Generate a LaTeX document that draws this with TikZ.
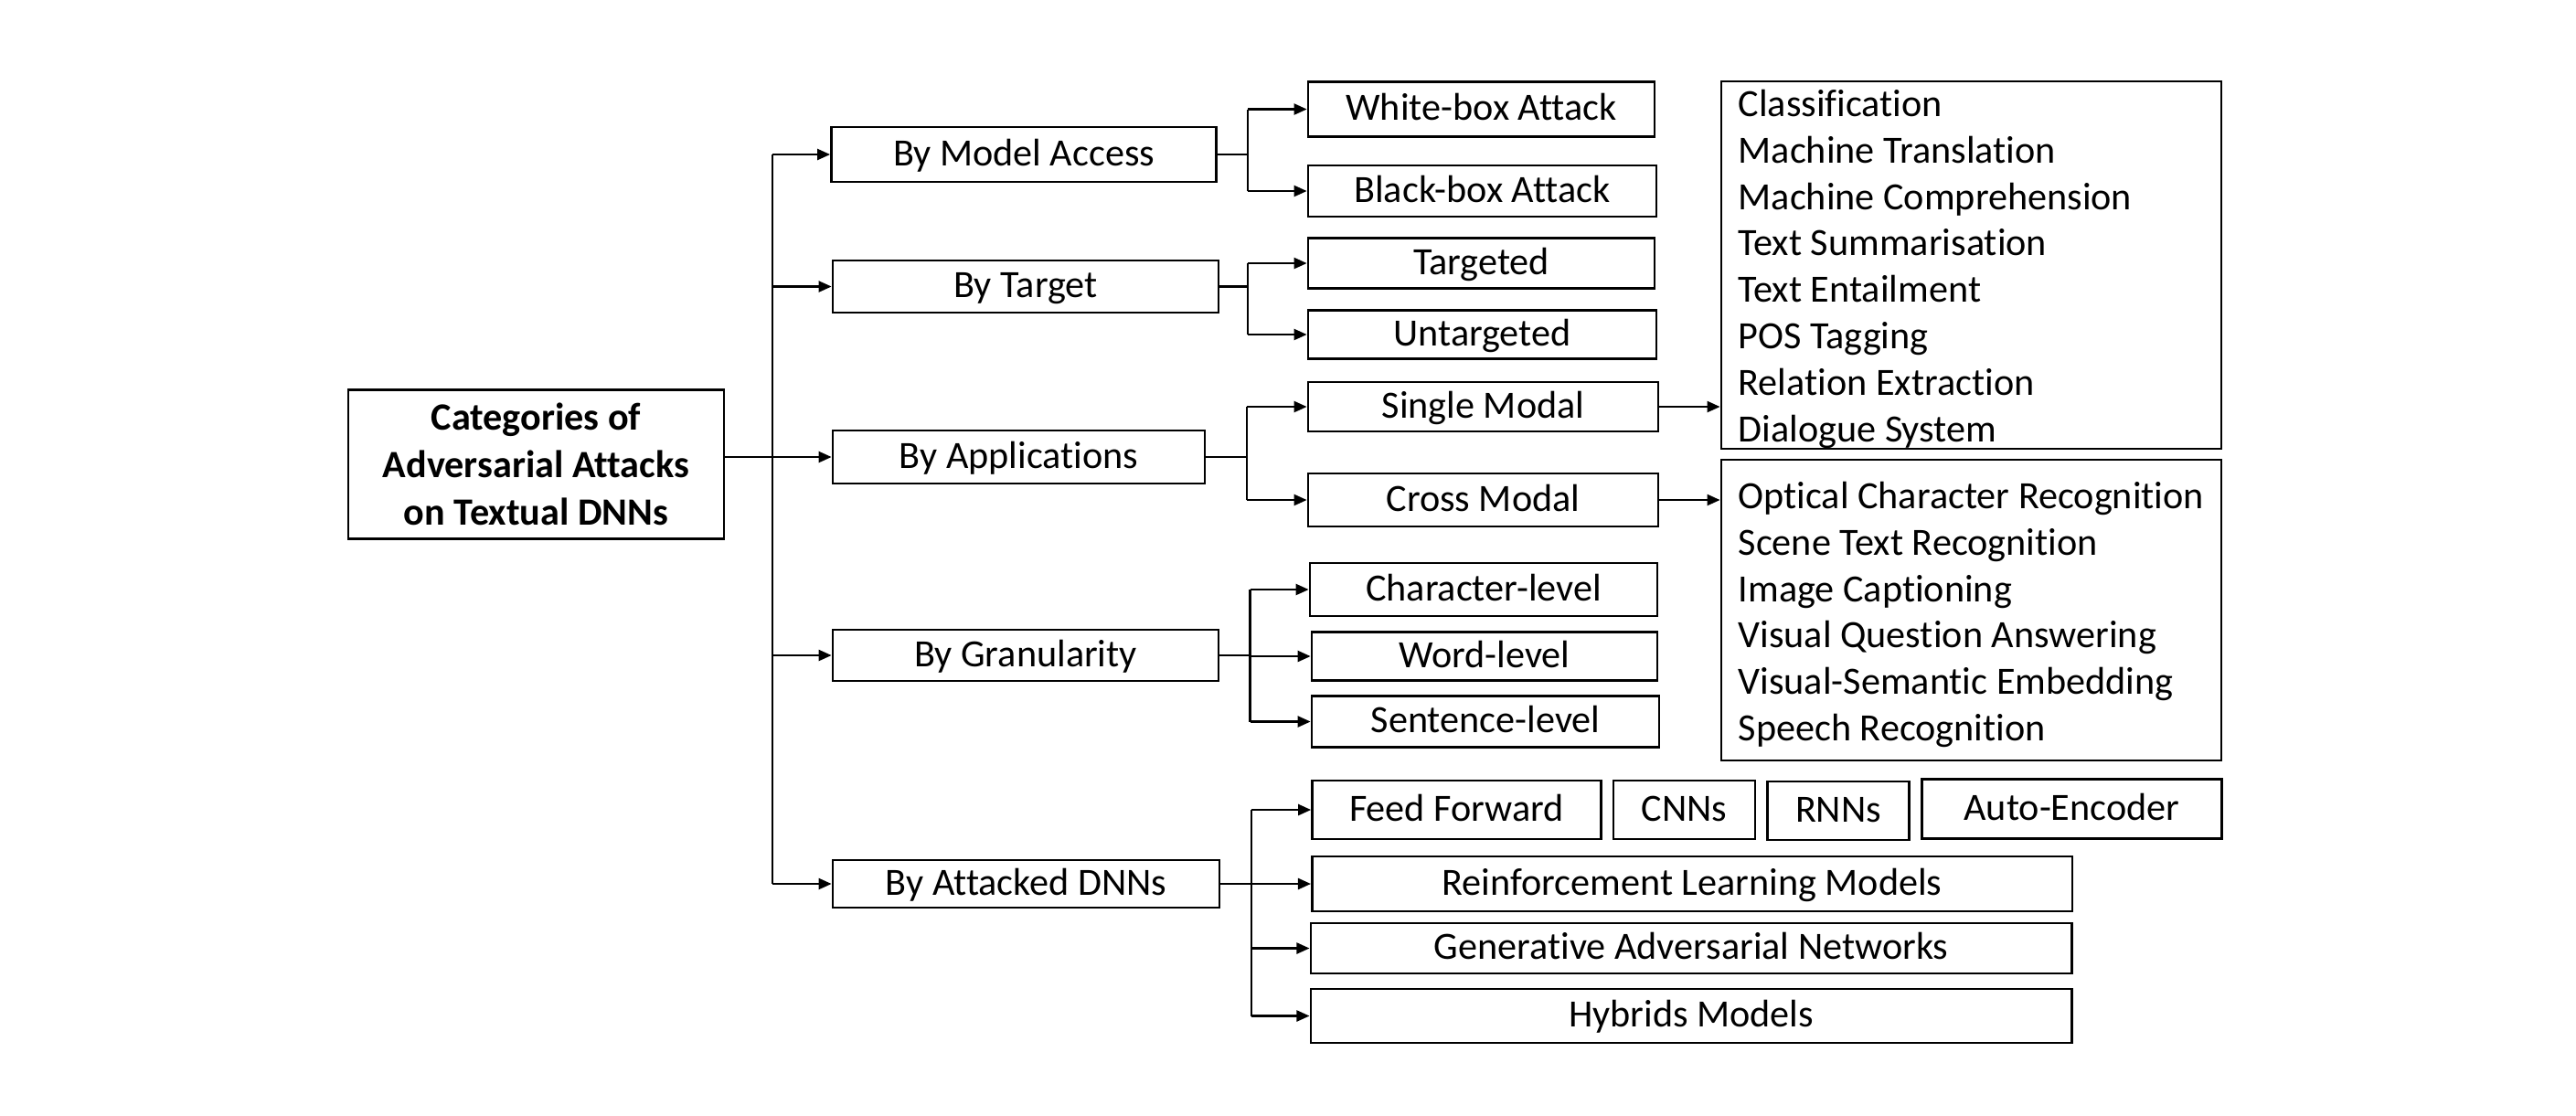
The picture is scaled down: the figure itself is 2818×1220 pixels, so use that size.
\documentclass[tikz,border=0pt]{standalone}
\usepackage{fontspec}
\setmainfont{Carlito}[Ligatures={NoCommon}]
\usetikzlibrary{arrows.meta}
\begin{document}
\begin{tikzpicture}[x=0.01cm,y=-0.01cm,
  every node/.style={font=\fontsize{12}{14.5}\selectfont},
  bx/.style={draw, line width=0.7pt, inner sep=0pt, align=center},
  sb/.style={bx, text height=0.7em, text depth=0pt},
  ln/.style={line width=0.7pt},
  arr/.style={line width=0.7pt, -{Triangle[length=4pt,width=3.4pt]}}]
\useasboundingbox (0,0) rectangle (2818,1220);

% root
\node[bx, minimum width=4.11cm, minimum height=1.63cm, font=\fontsize{12}{14.7}\selectfont\bfseries] (root) at (586.5,508) {Categories of\\Adversarial Attacks\\on Textual DNNs};

% level 1
\node[sb, minimum width=4.21cm, minimum height=0.60cm] (ma) at (1120,169) {By Model Access};
\node[sb, minimum width=4.22cm, minimum height=0.57cm] (tg) at (1122,313.5) {By Target};
\node[sb, minimum width=4.07cm, minimum height=0.58cm] (ap) at (1114.5,500) {By Applications};
\node[sb, minimum width=4.22cm, minimum height=0.56cm] (gr) at (1122,717) {By Granularity};
\node[sb, minimum width=4.23cm, minimum height=0.52cm] (dn) at (1122.5,967) {By Attacked DNNs};

% level 2
\node[sb, minimum width=3.79cm, minimum height=0.60cm] (wb) at (1620.5,119.5) {White-box Attack};
\node[sb, minimum width=3.81cm, minimum height=0.56cm] (bb) at (1621.5,209) {Black-box Attack};
\node[sb, minimum width=3.79cm, minimum height=0.55cm] (tgd) at (1620.5,288) {Targeted};
\node[sb, minimum width=3.81cm, minimum height=0.53cm] (utg) at (1621.5,366) {Untargeted};
\node[sb, minimum width=3.83cm, minimum height=0.54cm] (sm) at (1622.5,445) {Single Modal};
\node[sb, minimum width=3.83cm, minimum height=0.58cm] (cm) at (1622.5,547) {Cross Modal};
\node[sb, minimum width=3.80cm, minimum height=0.58cm] (ch) at (1623,645) {Character-level};
\node[sb, minimum width=3.78cm, minimum height=0.53cm] (wl) at (1624,718) {Word-level};
\node[sb, minimum width=3.80cm, minimum height=0.56cm] (sl) at (1625,789.5) {Sentence-level};

\node[sb, minimum width=3.16cm, minimum height=0.64cm] (ff) at (1593.5,886) {Feed Forward};
\node[sb, minimum width=1.55cm, minimum height=0.64cm] (cnn) at (1842.5,886) {CNNs};
\node[sb, minimum width=1.55cm, minimum height=0.64cm] (rnn) at (2011,887) {RNNs};
\node[sb, minimum width=3.28cm, minimum height=0.65cm] (ae) at (2266.4,885) {Auto-Encoder};
\node[sb, minimum width=8.31cm, minimum height=0.60cm] (rl) at (1851,967) {Reinforcement Learning Models};
\node[sb, minimum width=8.32cm, minimum height=0.55cm] (gan) at (1850,1037.5) {Generative Adversarial Networks};
\node[sb, minimum width=8.32cm, minimum height=0.59cm] (hy) at (1850,1111.5) {Hybrids Models};

% lists
\node[bx, minimum width=5.47cm, minimum height=4.02cm] (l1) at (2156.5,290) {};
\node[anchor=north west, inner sep=0pt, align=left] (l1t) at (1901,97) {Classification\\Machine Translation\\Machine Comprehension\\Text Summarisation\\Text Entailment\\POS Tagging\\Relation Extraction\\Dialogue System};
\node[bx, minimum width=5.47cm, minimum height=3.29cm] (l2) at (2156.5,667.5) {};
\node[anchor=north west, inner sep=0pt, align=left] (l2t) at (1901,526) {Optical Character Recognition\\Scene Text Recognition\\Image Captioning\\Visual Question Answering\\Visual-Semantic Embedding\\Speech Recognition};

% main trunk
\coordinate (tx) at (845,0);
\draw[ln] (ma.west -| tx) -- (dn.west -| tx);
\draw[arr] (root.east |- ap.west) -- (ap.west);
\draw[arr] (ma.west -| tx) -- (ma.west);
\draw[arr] (tg.west -| tx) -- (tg.west);
\draw[arr] (gr.west -| tx) -- (gr.west);
\draw[arr] (dn.west -| tx) -- (dn.west);

% model access
\coordinate (s1) at (1365,0);
\draw[ln] (ma.east) -- (ma.east -| s1);
\draw[ln] (wb.west -| s1) -- (bb.west -| s1);
\draw[arr] (wb.west -| s1) -- (wb.west);
\draw[arr] (bb.west -| s1) -- (bb.west);

% target
\coordinate (s2) at (1365,0);
\draw[ln] (tg.east) -- (tg.east -| s2);
\draw[ln] (tgd.west -| s2) -- (utg.west -| s2);
\draw[arr] (tgd.west -| s2) -- (tgd.west);
\draw[arr] (utg.west -| s2) -- (utg.west);

% applications
\coordinate (s3) at (1364,0);
\draw[ln] (ap.east) -- (ap.east -| s3);
\draw[ln] (sm.west -| s3) -- (cm.west -| s3);
\draw[arr] (sm.west -| s3) -- (sm.west);
\draw[arr] (cm.west -| s3) -- (cm.west);
\draw[arr] (sm.east) -- (sm.east -| l1.west);
\draw[arr] (cm.east) -- (cm.east -| l2.west);

% granularity
\coordinate (s4) at (1367.5,0);
\draw[ln] (gr.east) -- (gr.east -| s4);
\draw[ln] (ch.west -| s4) -- (sl.west -| s4);
\draw[arr] (ch.west -| s4) -- (ch.west);
\draw[arr] (wl.west -| s4) -- (wl.west);
\draw[arr] (sl.west -| s4) -- (sl.west);

% attacked DNNs
\coordinate (s5) at (1369,0);
\draw[ln] (dn.east) -- (dn.east -| s5);
\draw[ln] (ff.west -| s5) -- (hy.west -| s5);
\draw[arr] (ff.west -| s5) -- (ff.west);
\draw[arr] (rl.west -| s5) -- (rl.west);
\draw[arr] (gan.west -| s5) -- (gan.west);
\draw[arr] (hy.west -| s5) -- (hy.west);
\end{tikzpicture}
\end{document}
